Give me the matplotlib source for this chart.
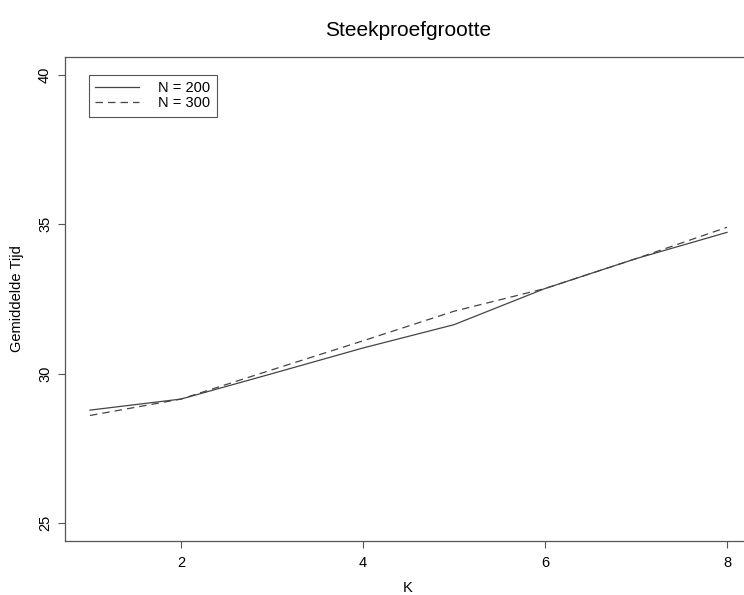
import matplotlib.pyplot as plt

plt.rcParams['font.family'] = ['Liberation Sans', 'DejaVu Sans']

k = [1, 2, 3, 4, 5, 6, 7, 8]
tijd_n200 = [28.78, 29.15, 30.0, 30.86, 31.64, 32.85, 33.85, 34.73]
tijd_n300 = [28.60, 29.15, 30.13, 31.10, 32.09, 32.85, 33.85, 34.90]
x_ticks = [2, 4, 6, 8]
y_ticks = [25, 30, 35, 40]

fig = plt.figure(figsize=(7.44, 5.95), dpi=100)
# box runs past the right edge, like the cropped original
ax = fig.add_axes([0.0867, 0.0908, 0.9247, 0.8134])

ax.plot(k, tijd_n200, color='#444444', lw=0.9, label='N = 200')
ax.plot(k, tijd_n300, color='#444444', lw=0.9, dashes=(6, 4), label='N = 300')

ax.set_xlim(0.72, 8.28)
ax.set_ylim(24.4, 40.6)
ax.set_xticks(x_ticks)
ax.set_yticks(y_ticks, labels=[str(v) for v in y_ticks], rotation=90,
              va='center', ha='right')
ax.tick_params(direction='out', length=5, width=0.8, color='#555555',
               labelsize=10.5)
ax.tick_params(axis='x', pad=6)
ax.tick_params(axis='y', pad=4)
for sp in ax.spines.values():
    sp.set_color('#555555')
    sp.set_linewidth(0.9)

ax.set_xlabel('K', fontsize=10.5)
ax.xaxis.set_label_coords(0.499, -0.083)
ax.set_ylabel('Gemiddelde Tijd', fontsize=10.5)
ax.yaxis.set_label_coords(-0.059, 0.5)
fig.text(0.549, 0.949, 'Steekproefgrootte', ha='center', va='center', fontsize=15)

leg = ax.legend(loc='upper left', bbox_to_anchor=(0.0355, 0.963), fontsize=10.5,
                fancybox=False, framealpha=1, edgecolor='#555555',
                handlelength=3.0, borderpad=0.45, labelspacing=0.05,
                handletextpad=1.3, borderaxespad=0)
leg.get_frame().set_linewidth(0.8)

fig.savefig('out.png', dpi=100)
